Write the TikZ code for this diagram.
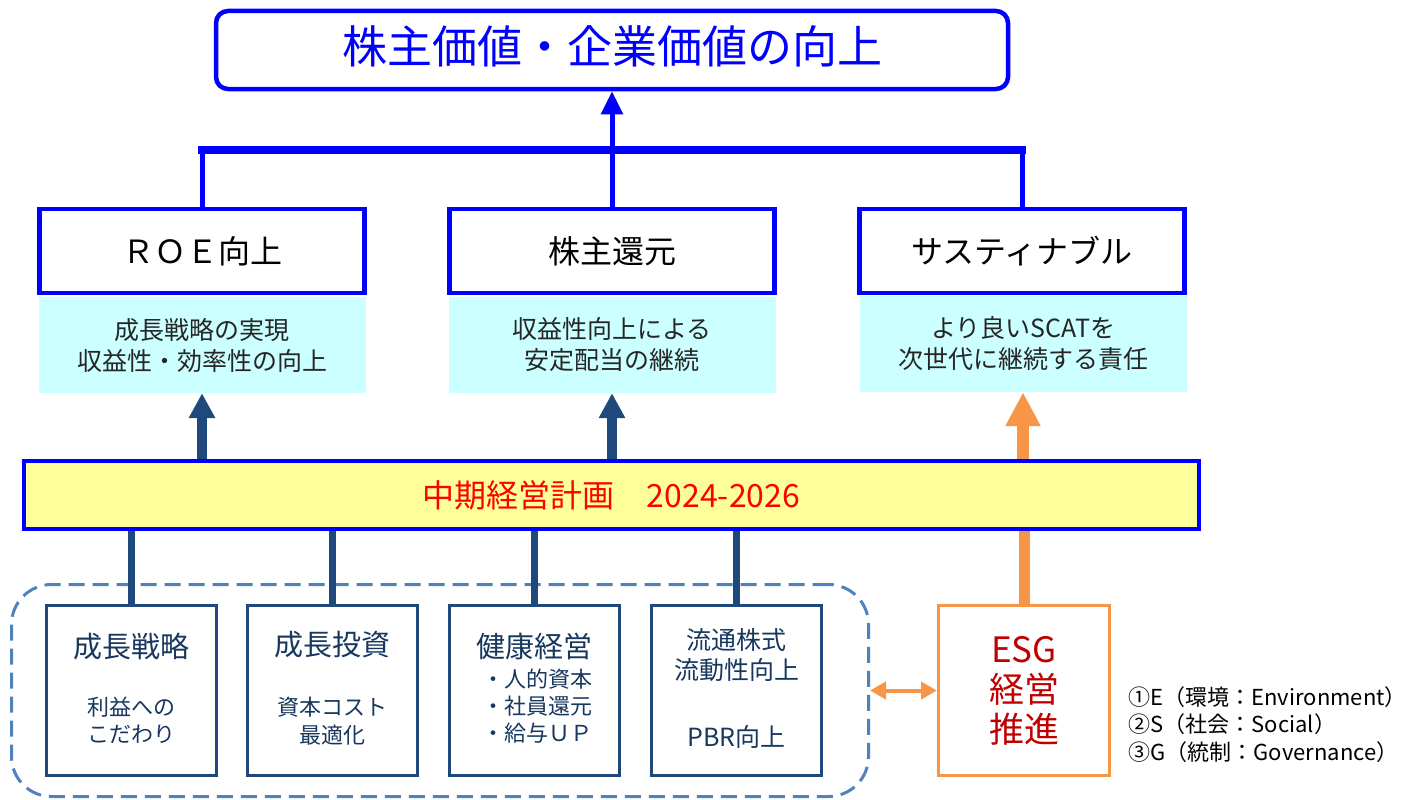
\documentclass[tikz,border=0pt]{standalone}
\usepackage{fontspec}
\setmainfont{Noto Sans CJK JP}
\usetikzlibrary{arrows.meta}
\definecolor{pure blue}{RGB}{0,0,255}
\definecolor{dark navy}{RGB}{31,73,125}
\definecolor{text navy}{RGB}{23,55,94}
\definecolor{pale cyan}{RGB}{204,255,255}
\definecolor{pale yellow}{RGB}{255,255,153}
\definecolor{esg orange}{RGB}{247,150,70}
\definecolor{esg red}{RGB}{192,0,0}
\definecolor{steel blue}{RGB}{79,129,189}
\newcommand{\pxfont}[2]{\fontsize{#1}{#2}\selectfont}

\begin{document}
\begin{tikzpicture}[x=1pt, y=-1pt,
	goalbox/.style={draw=pure blue, line width=4.5pt, rounded corners=12pt, minimum width=792pt, minimum height=78pt},
	aimbox/.style={draw=pure blue, line width=4.5pt, minimum width=325pt, minimum height=84pt, font=\pxfont{32}{38}},
	notebox/.style={fill=pale cyan, minimum width=327pt, minimum height=96pt, align=center, text=black!85, font=\pxfont{25}{31}},
	planbox/.style={draw=pure blue, fill=pale yellow, line width=4pt, minimum width=1175pt, minimum height=68pt, text=red, font=\pxfont{32}{38}},
	pillar/.style={draw=dark navy, line width=3pt, minimum width=170pt, minimum height=170pt},
	group/.style={draw=steel blue, line width=3pt, dash pattern=on 16pt off 8pt, rounded corners=40pt, minimum width=857pt, minimum height=212pt},
	esgbox/.style={draw=esg orange, line width=3pt, minimum width=171pt, minimum height=170pt, align=center, text=esg red, font=\pxfont{35}{40}},
	headtext/.style={text=text navy, font=\pxfont{29}{34}},
	subtext/.style={text=text navy, align=center, font=\pxfont{22}{27}},
	stocktext/.style={text=text navy, align=center, font=\pxfont{25}{30}},
	legend/.style={anchor=west, align=left, font=\pxfont{22}{27.5}},
	bluelink/.style={draw=pure blue, line width=5pt},
	navylink/.style={draw=dark navy, line width=7pt},
	orangelink/.style={draw=esg orange, line width=11pt},
	navyup/.style={draw=dark navy, fill=dark navy, line width=10pt, -{Triangle[length=25pt,width=25pt]}},
	orangeup/.style={draw=esg orange, fill=esg orange, line width=12pt, -{Triangle[length=34pt,width=33pt]}}]
	\useasboundingbox (0,0) rectangle (1405,800);
	% goal
	\node[goalbox] (goal) at (612,50) {};
	\node[text=pure blue, font=\pxfont{45}{50}] (goalText) at (612,46) {株主価値・企業価値の向上};
	% three aims
	\node[aimbox] (roe) at (202,251) {ＲＯＥ向上};
	\node[aimbox] (kabu) at (612,251) {株主還元};
	\node[aimbox] (sus) at (1022,251) {サスティナブル};
	\node[notebox] (roeSub) at (202,345) {成長戦略の実現\\収益性・効率性の向上};
	\node[notebox] (kabuSub) at (612,345) {収益性向上による\\安定配当の継続};
	\node[notebox] (susSub) at (1023,344) {より良いSCATを\\次世代に継続する責任};
	% bracket
	\coordinate (join) at (612,150);
	\draw[bluelink] (roe.north) -- (roe.north |- join)
		(kabu.north) -- (join)
		(sus.north) -- (sus.north |- join);
	\draw[bluelink, line width=8pt, line cap=rect] (roe.north |- join) -- (sus.north |- join);
	\draw[bluelink, -{Triangle[length=23pt,width=21pt]}] (join) -- (goal.south);
	% plan
	\node[planbox] (plan) at (611.5,495) {中期経営計画　2024-2026};
	\draw[navyup] (plan.north -| roeSub.south) -- (roeSub.south);
	\draw[navyup] (plan.north -| kabuSub.south) -- (kabuSub.south);
	\draw[orangeup] (plan.north -| susSub.south) -- (susSub.south);
	% pillars
	\node[group] (group) at (440,690.5) {};
	\node[pillar] (growth) at (131.5,690.5) {};
	\node[pillar] (invest) at (332,690.5) {};
	\node[pillar] (health) at (534,690.5) {};
	\node[pillar] (stock) at (736.5,690.5) {};
	\foreach \p in {growth,invest,health,stock}
		\draw[navylink] (\p.north) -- (\p.north |- plan.south);
	\node[headtext] (growthHead) at (131.5,647) {成長戦略};
	\node[subtext] (growthNote) at (131.5,720) {利益への\\こだわり};
	\node[headtext] (investHead) at (332,645) {成長投資};
	\node[subtext, font=\pxfont{22}{28}] (investNote) at (332,721) {資本コスト\\最適化};
	\node[headtext] (healthHead) at (534,647) {健康経営};
	\node[subtext] (healthNote) at (537,706) {・人的資本\\・社員還元\\・給与ＵＰ};
	\node[stocktext] (stockHead) at (736.5,655) {流通株式\\流動性向上};
	\node[stocktext] (stockNote) at (736.5,737) {PBR向上};
	% esg
	\node[esgbox] (esg) at (1024,690.5) {ESG\\経営\\推進};
	\draw[orangelink] (esg.north) -- (esg.north |- plan.south);
	\draw[draw=esg orange, line width=4pt, {Triangle[length=16pt,width=17pt]}-{Triangle[length=16pt,width=17pt]}] (group.east) -- (esg.west);
	\node[legend] (legend) at (1125,724.5) {①E（環境：Environment）\\②S（社会：Social）\\③G（統制：Governance）};
\end{tikzpicture}
\end{document}
